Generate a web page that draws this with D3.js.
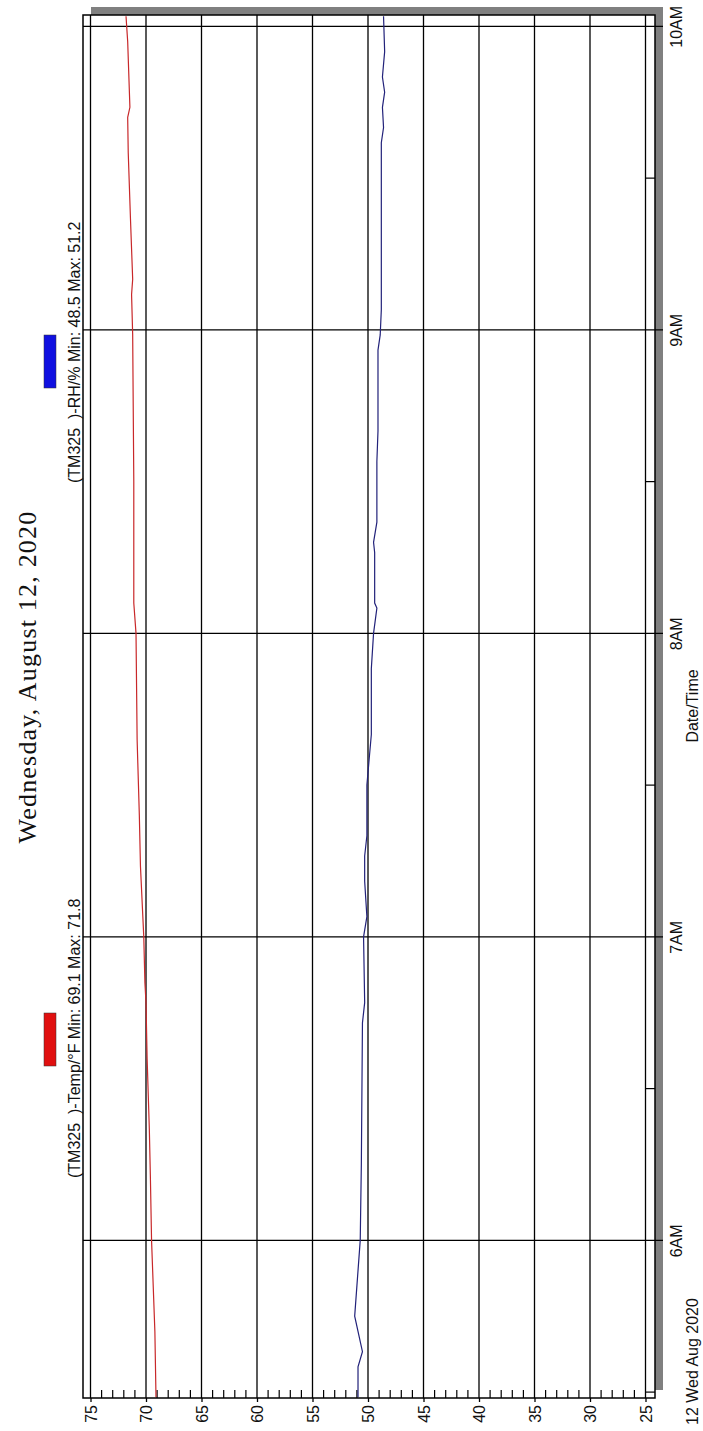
<!DOCTYPE html>
<html><head><meta charset="utf-8">
<script src="https://cdn.jsdelivr.net/npm/d3@7"></script>
<style>body{margin:0;background:#fff}</style>
</head><body>
<svg id="c" width="703" height="1431"></svg>
<script>
// ---- data ----
const titleText = "Wednesday, August 12, 2020";
const valueTicks = [75, 70, 65, 60, 55, 50, 45, 40, 35, 30, 25];
const hourTicks = ["06:00", "07:00", "08:00", "09:00", "10:00"];
const halfHourTicks = ["05:30", "06:30", "07:30", "08:30", "09:30"];
const timeStart = "05:28:50";
const timeEnd = "10:02:15";

const tempTimes = ["05:29","05:42","06:00","06:12","06:22","06:36","06:47","06:51","07:00","07:14","07:24","07:39","08:00","08:06","08:30","08:59","09:07","09:10","09:22","09:35","09:42","09:44","09:57","10:02"];
const tempValues = [69.1,69.2,69.5,69.6,69.7,69.9,70.0,70.1,70.2,70.5,70.6,70.8,70.9,71.1,71.1,71.2,71.3,71.2,71.4,71.6,71.65,71.45,71.65,71.8];

const rhTimes = ["05:29","05:35","05:38","05:42","05:45","05:51","06:00","06:15","06:43","06:47","07:00","07:04","07:11","07:16","07:20","07:30","07:35","07:40","07:43","07:53","08:00","08:05","08:06","08:16","08:18","08:22","08:34","08:40","08:56","08:59","09:04","09:26","09:37","09:40","09:44","09:47","09:50","09:55","10:02"];
const rhValues = [50.9,50.9,50.5,50.9,51.2,51.0,50.7,50.6,50.5,50.3,50.4,50.1,50.3,50.3,50.1,50.1,49.9,49.7,49.7,49.7,49.5,49.2,49.4,49.4,49.5,49.2,49.2,49.1,49.1,48.9,48.8,48.8,48.8,48.6,48.7,48.5,48.7,48.5,48.6];

const legendTemp = "(TM325  )-Temp/°F Min: 69.1 Max: 71.8";
const legendRH = "(TM325  )-RH/% Min: 48.5 Max: 51.2";
const dateLabel = "12 Wed Aug 2020";
const axisTitle = "Date/Time";

// ---- setup ----
const day = "2020-08-12 ";
const pT = s => (s.length > 5 ? d3.timeParse("%Y-%m-%d %H:%M:%S") : d3.timeParse("%Y-%m-%d %H:%M"))(day + s);

const svg = d3.select("#c");
const L = 83, R = 655, T = 15, B = 1398;
const x = d3.scaleLinear().domain([75, 25]).range([90.5, 645.5]);
const y = d3.scaleTime().domain([pT(timeStart), pT(timeEnd)]).range([B, T]);

const sans = "'Liberation Sans', Arial, sans-serif";

// shadow
svg.append("rect").attr("x", L + 8).attr("y", T - 8).attr("width", R - L).attr("height", B - T)
  .attr("fill", "#808080");
svg.append("rect").attr("x", L).attr("y", T).attr("width", R - L).attr("height", B - T)
  .attr("fill", "#fff");

// vertical value gridlines
svg.append("g").selectAll("line").data(valueTicks).join("line")
  .attr("x1", d => x(d)).attr("x2", d => x(d)).attr("y1", T).attr("y2", B)
  .attr("stroke", "#000").attr("stroke-width", 1.3);

// minor value ticks
const minor = d3.range(26, 75).filter(v => v % 5 !== 0);
svg.append("g").selectAll("line").data(minor).join("line")
  .attr("x1", d => x(d)).attr("x2", d => x(d)).attr("y1", B - 8).attr("y2", B)
  .attr("stroke", "#000").attr("stroke-width", 1.2);

// hour gridlines
svg.append("g").selectAll("line").data(hourTicks.map(pT)).join("line")
  .attr("x1", L).attr("x2", R + 8).attr("y1", d => y(d)).attr("y2", d => y(d))
  .attr("stroke", "#000").attr("stroke-width", 1.3);

// half hour ticks
svg.append("g").selectAll("line").data(halfHourTicks.map(pT)).join("line")
  .attr("x1", R - 9).attr("x2", R).attr("y1", d => y(d)).attr("y2", d => y(d))
  .attr("stroke", "#000").attr("stroke-width", 1.2);

// series lines
const tempData = tempTimes.map((t, i) => ({t: pT(t), v: tempValues[i]}));
const rhData = rhTimes.map((t, i) => ({t: pT(t), v: rhValues[i]}));
const line = d3.line().x(d => x(d.v)).y(d => y(d.t));
svg.append("path").datum(tempData).attr("d", line).attr("fill", "none")
  .attr("stroke", "#c8282a").attr("stroke-width", 1.2);
svg.append("path").datum(rhData).attr("d", line).attr("fill", "none")
  .attr("stroke", "#22227a").attr("stroke-width", 1.2);

// frame
svg.append("rect").attr("x", L).attr("y", T).attr("width", R - L).attr("height", B - T)
  .attr("fill", "none").attr("stroke", "#000").attr("stroke-width", 1.5);

// value axis (bottom)
const xa = svg.append("g").attr("transform", `translate(0,${B})`)
  .call(d3.axisBottom(x).tickValues(valueTicks).tickSize(4).tickFormat(d3.format("d")));
xa.select(".domain").remove();
xa.selectAll("line").attr("stroke-width", 1.3);
xa.selectAll("text").attr("transform", "rotate(-90)").attr("x", -7).attr("y", 0).attr("dy", "0.35em")
  .attr("text-anchor", "end").attr("font-size", 16).attr("font-family", sans).attr("fill", "#111");

// time axis (right)
const ya = svg.append("g").attr("transform", `translate(${R + 8},0)`)
  .call(d3.axisRight(y).tickValues(hourTicks.map(pT)).tickSize(0).tickFormat(d3.timeFormat("%-I%p")));
ya.select(".domain").remove();
ya.selectAll("text").attr("transform", "rotate(-90)").attr("x", 0).attr("y", 19).attr("dy", 0)
  .attr("text-anchor", "middle").attr("font-size", 16).attr("font-family", sans).attr("fill", "#111");

// title
svg.append("text").attr("transform", "translate(36,677) rotate(-90)").attr("text-anchor", "middle")
  .attr("font-family", "'Liberation Serif', 'Times New Roman', serif").attr("font-size", 26)
  .attr("letter-spacing", 1.2).attr("fill", "#111").text(titleText);

// legends
function legend(txt, color, startY, boxY) {
  svg.append("rect").attr("x", 44).attr("y", boxY).attr("width", 12).attr("height", 53)
    .attr("fill", color).attr("stroke", "#333").attr("stroke-width", 0.5);
  svg.append("text").attr("transform", `translate(80,${startY}) rotate(-90)`)
    .attr("font-family", sans).attr("font-size", 16).attr("fill", "#111")
    .style("white-space", "pre").text(txt);
}
legend(legendTemp, "#e01010", 1178, 1013);
legend(legendRH, "#1010e0", 483, 335);

// axis titles
svg.append("text").attr("transform", "translate(698,706) rotate(-90)").attr("text-anchor", "middle")
  .attr("font-family", sans).attr("font-size", 16).attr("fill", "#111").text(axisTitle);
svg.append("text").attr("transform", "translate(698,1425) rotate(-90)").attr("text-anchor", "start")
  .attr("font-family", sans).attr("font-size", 16).attr("fill", "#111").text(dateLabel);
</script>
</body></html>
